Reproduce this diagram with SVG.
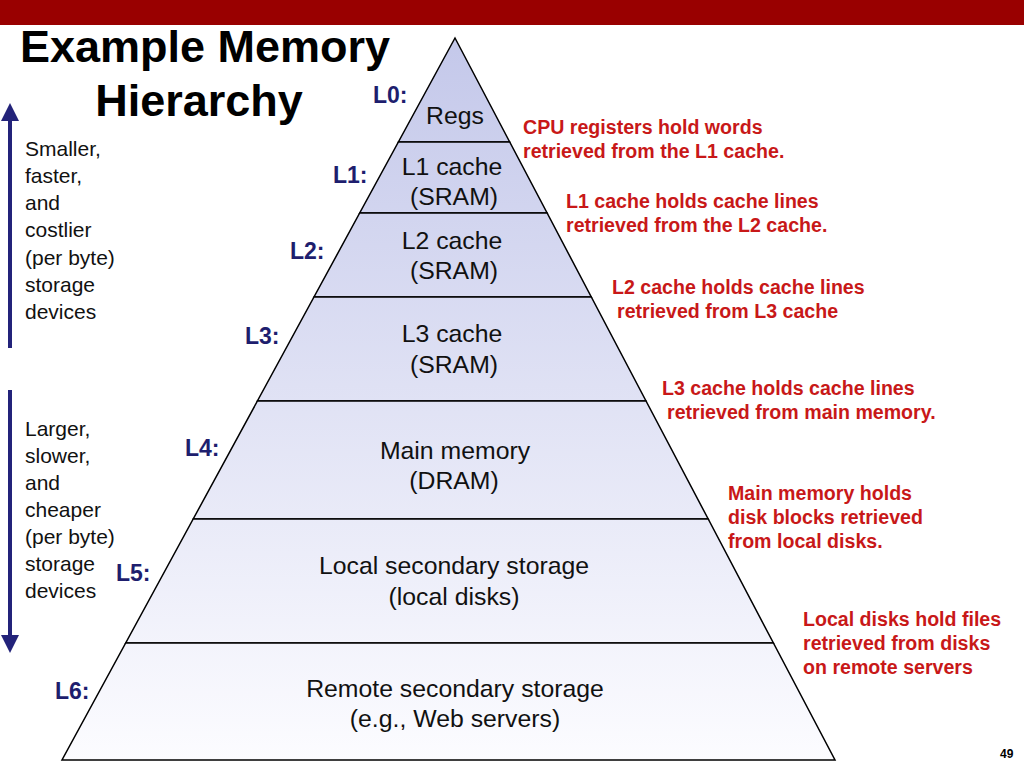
<svg xmlns="http://www.w3.org/2000/svg" width="1024" height="768" viewBox="0 0 1024 768">
<defs>
<linearGradient id="pg" gradientUnits="userSpaceOnUse" x1="0" y1="38" x2="0" y2="760">
<stop offset="0" stop-color="#c4c8ea"/>
<stop offset="1" stop-color="#fcfcff"/>
</linearGradient>
<marker id="ah" viewBox="0 0 10 10" refX="5" refY="5" markerWidth="4.5" markerHeight="4.5" orient="auto-start-reverse" markerUnits="strokeWidth">
<path d="M0,0 L10,5 L0,10 z" fill="#23237a"/>
</marker>
</defs>
<style>
.lay{fill:url(#pg);stroke:#000;stroke-width:1.5}
.pt{font-family:"Liberation Sans",Arial,sans-serif;font-size:24.8px;fill:#111;text-anchor:middle}
.lv{font-family:"Liberation Sans",Arial,sans-serif;font-size:23px;font-weight:bold;fill:#1e1e6e}
.rd{font-family:"Liberation Sans",Arial,sans-serif;font-size:19.6px;font-weight:bold;fill:#c81818}
.side{font-family:"Liberation Sans",Arial,sans-serif;font-size:21px;fill:#111}
.ttl{font-family:"Liberation Sans",Arial,sans-serif;font-size:45px;font-weight:bold;fill:#000;text-anchor:middle}
.arr{stroke:#23237a;stroke-width:4;fill:none}
</style>
<rect x="0" y="0" width="1024" height="768" fill="#fff"/>
<rect x="0" y="0" width="1024" height="25" fill="#990000"/>
<text class="ttl" x="205" y="62">Example Memory</text>
<text class="ttl" x="199" y="116">Hierarchy</text>

<g id="connectors">
<line class="arr" x1="10" y1="348" x2="10" y2="112" marker-end="url(#ah)"/>
<line class="arr" x1="10" y1="390" x2="10" y2="644" marker-end="url(#ah)"/>
</g>

<g id="side-top">
<text class="side" x="25" y="156">Smaller,</text>
<text class="side" x="25" y="183">faster,</text>
<text class="side" x="25" y="210">and</text>
<text class="side" x="25" y="237">costlier</text>
<text class="side" x="25" y="265">(per byte)</text>
<text class="side" x="25" y="292">storage</text>
<text class="side" x="25" y="319">devices</text>
</g>
<g id="side-bottom">
<text class="side" x="25" y="436">Larger,</text>
<text class="side" x="25" y="463">slower,</text>
<text class="side" x="25" y="490">and</text>
<text class="side" x="25" y="517">cheaper</text>
<text class="side" x="25" y="544">(per byte)</text>
<text class="side" x="25" y="571">storage</text>
<text class="side" x="25" y="598">devices</text>
</g>

<g id="L0">
<polygon class="lay" points="455,38 509.7,142 398.4,142"/>
<text class="lv" x="373" y="103">L0:</text>
<text class="pt" x="455" y="124">Regs</text>
</g>
<g id="L1">
<polygon class="lay" points="398.4,142 509.7,142 547.1,213 359.7,213"/>
<text class="lv" x="333" y="183">L1:</text>
<text class="pt" x="452" y="175">L1 cache</text>
<text class="pt" x="454" y="205">(SRAM)</text>
</g>
<g id="L2">
<polygon class="lay" points="359.7,213 547.1,213 591.3,297 314,297"/>
<text class="lv" x="290" y="259">L2:</text>
<text class="pt" x="452" y="249">L2 cache</text>
<text class="pt" x="454" y="279">(SRAM)</text>
</g>
<g id="L3">
<polygon class="lay" points="314,297 591.3,297 646,401 257.4,401"/>
<text class="lv" x="245" y="344">L3:</text>
<text class="pt" x="452" y="342">L3 cache</text>
<text class="pt" x="454" y="373">(SRAM)</text>
</g>
<g id="L4">
<polygon class="lay" points="257.4,401 646,401 708.2,519 193.2,519"/>
<text class="lv" x="185" y="456">L4:</text>
<text class="pt" x="455" y="459">Main memory</text>
<text class="pt" x="454" y="489">(DRAM)</text>
</g>
<g id="L5">
<polygon class="lay" points="193.2,519 708.2,519 773.4,643 125.7,643"/>
<text class="lv" x="116" y="581">L5:</text>
<text class="pt" x="454" y="574">Local secondary storage</text>
<text class="pt" x="454" y="605">(local disks)</text>
</g>
<g id="L6">
<polygon class="lay" points="125.7,643 773.4,643 835,760 62,760"/>
<text class="lv" x="55" y="699">L6:</text>
<text class="pt" x="455" y="697">Remote secondary storage</text>
<text class="pt" x="455" y="727">(e.g., Web servers)</text>
</g>

<g id="notes">
<text class="rd" x="523" y="134">CPU registers hold words</text>
<text class="rd" x="523" y="158">retrieved from the L1 cache.</text>
<text class="rd" x="566" y="208">L1 cache holds cache lines</text>
<text class="rd" x="566" y="232">retrieved from the L2 cache.</text>
<text class="rd" x="612" y="294">L2 cache holds cache lines</text>
<text class="rd" x="617" y="318">retrieved from L3 cache</text>
<text class="rd" x="662" y="395">L3 cache holds cache lines</text>
<text class="rd" x="667" y="419">retrieved from main memory.</text>
<text class="rd" x="728" y="500">Main memory holds</text>
<text class="rd" x="728" y="524">disk blocks retrieved</text>
<text class="rd" x="728" y="548">from local disks.</text>
<text class="rd" x="803" y="626">Local disks hold files</text>
<text class="rd" x="803" y="650">retrieved from disks</text>
<text class="rd" x="803" y="674">on remote servers</text>
</g>
<text x="1000" y="758" font-family="Liberation Sans, Arial, sans-serif" font-size="12" font-weight="bold" fill="#000">49</text>
</svg>
